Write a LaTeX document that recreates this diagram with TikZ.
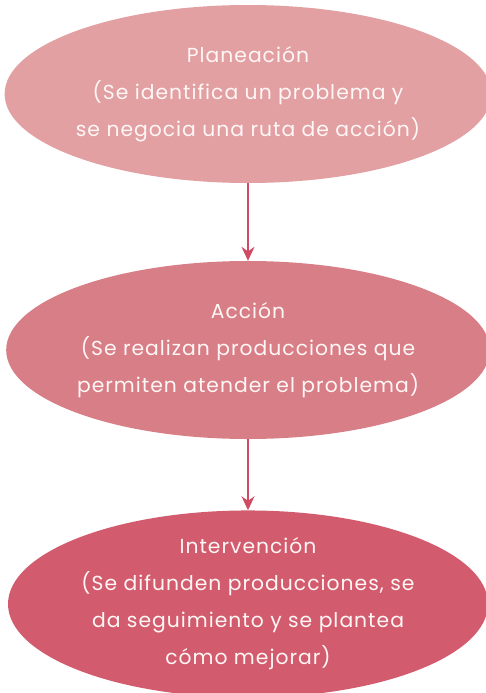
\documentclass[tikz,border=0pt]{standalone}
\usepackage{fontspec}
\setmainfont{Poppins}[Ligatures=NoCommon,LetterSpace=5]
\usetikzlibrary{shapes.geometric,arrows.meta}
\definecolor{cTop}{HTML}{E2A0A3}
\definecolor{cMid}{HTML}{D87E87}
\definecolor{cBot}{HTML}{D25C6E}
\definecolor{cArr}{HTML}{D04A64}
\definecolor{cTxt}{HTML}{FFF6F6}
\tikzset{
  stage/.style={ellipse, inner sep=0pt, minimum width=480pt, minimum height=178pt,
    text=cTxt, align=center, font=\fontsize{20.3}{37}\selectfont},
  conn/.style={draw=cArr, line width=1.4pt, -{Stealth[length=14pt,width=13pt]}}
}
\begin{document}
\begin{tikzpicture}[x=1pt,y=1pt]
\useasboundingbox (0,0) rectangle (486,-693);
\node[stage, fill=cTop] (plan) at (248,-94) {Planeación\\(Se identifica un problema y\\se negocia una ruta de acción)};
\node[stage, fill=cMid] (acc) at (248,-350) {Acción\\(Se realizan producciones que\\permiten atender el problema)};
\node[stage, fill=cBot] (int) at (248,-604) {Intervención\\(Se difunden producciones, se\\da seguimiento y se plantea\\cómo mejorar)};
\draw[conn] (plan) -- (acc);
\draw[conn] (acc) -- (int);
\end{tikzpicture}
\end{document}
